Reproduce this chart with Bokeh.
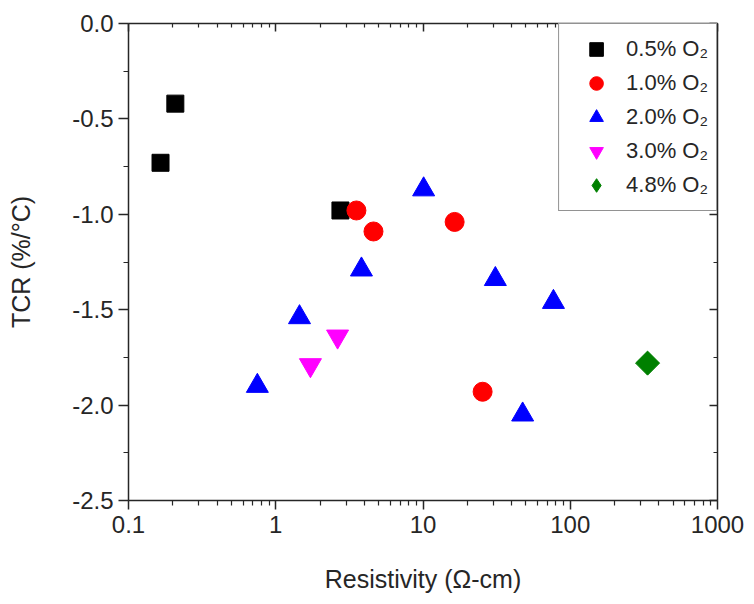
import numpy as np
from bokeh.plotting import figure
from bokeh.models import (FixedTicker, SingleIntervalTicker, LinearAxis, LogAxis,
                          NumeralTickFormatter, CustomJSTickFormatter, Legend, LegendItem)
from bokeh.embed import file_html
from bokeh.resources import INLINE

# ---- data ----
series_names = ["0.5% O\u2082", "1.0% O\u2082", "2.0% O\u2082", "3.0% O\u2082", "4.8% O\u2082"]
rho_05 = [0.165, 0.208, 2.75]
tcr_05 = [-0.73, -0.42, -0.98]
rho_10 = [3.53, 4.61, 16.4, 25.4]
tcr_10 = [-0.98, -1.09, -1.04, -1.93]
rho_20 = [10.1, 3.82, 31.0, 1.45, 0.75, 47.5, 76.9]
tcr_20 = [-0.87, -1.29, -1.34, -1.54, -1.90, -2.05, -1.46]
rho_30 = [2.63, 1.72]
tcr_30 = [-1.64, -1.79]
rho_48 = [335.0]
tcr_48 = [-1.78]

x_major_ticks = [0.1, 1, 10, 100, 1000]
x_minor_ticks = [k * d for d in [0.1, 1, 10, 100] for k in range(2, 10)]

FONT = "Liberation Sans"
AX = "#262626"

p = figure(x_axis_type="log", x_range=(0.1, 1000), y_range=(-2.5, 0.0),
           frame_width=589, frame_height=477,
           min_border_left=128, min_border_right=29, min_border_top=23, min_border_bottom=104,
           output_backend="svg", toolbar_location=None,
           background_fill_color="white", border_fill_color="white")
p.xgrid.visible = False
p.ygrid.visible = False
p.outline_line_color = None

xt = FixedTicker(ticks=x_major_ticks, minor_ticks=x_minor_ticks)
yt = SingleIntervalTicker(interval=0.5, num_minor_ticks=2)

xa = p.xaxis[0]
xa.ticker = xt
xa.formatter = NumeralTickFormatter(format="0.[0]")
ya = p.yaxis[0]
ya.ticker = yt
ya.formatter = NumeralTickFormatter(format="0.0")

for ax in (xa, ya):
    ax.axis_line_color = AX
    ax.axis_line_width = 1.5
    ax.major_tick_line_color = AX
    ax.minor_tick_line_color = AX
    ax.major_tick_line_width = 1.5
    ax.minor_tick_line_width = 1.2
    ax.major_tick_in = 0
    ax.minor_tick_in = 0
    ax.major_label_text_font = FONT
    ax.major_label_text_font_size = "24px"
    ax.major_label_text_color = AX
    ax.axis_label_text_font = FONT
    ax.axis_label_text_font_size = "25px"
    ax.axis_label_text_font_style = "normal"
    ax.axis_label_text_color = AX

xa.major_tick_out = 9
xa.minor_tick_out = 5
xa.major_label_standoff = 6
xa.axis_label = "Resistivity (\u03a9-cm)"
xa.axis_label_standoff = 29

ya.major_tick_out = 10
ya.minor_tick_out = 5
ya.major_label_standoff = 5
ya.axis_label = "TCR (%/\u00b0C)"
ya.axis_label_standoff = 34

blank = CustomJSTickFormatter(code="return ''")
ra = LinearAxis(ticker=yt, formatter=blank)
ta = LogAxis(ticker=xt, formatter=blank)
for ax in (ra, ta):
    ax.axis_line_color = AX
    ax.axis_line_width = 1.5
    ax.major_tick_line_color = AX
    ax.minor_tick_line_color = AX
    ax.major_tick_line_width = 1.5
    ax.minor_tick_line_width = 1.2
    ax.major_tick_in = 8
    ax.major_tick_out = 0
    ax.minor_tick_in = 4
    ax.minor_tick_out = 0
    ax.major_label_standoff = 0
p.add_layout(ra, "right")
p.add_layout(ta, "above")

r05 = p.scatter(rho_05, tcr_05, marker="square", size=17, color="black")
r10 = p.scatter(rho_10, tcr_10, marker="circle", size=19, color="#FF0000")
r20 = p.scatter(rho_20, tcr_20, marker="triangle", size=22, color="#0000FF")
r30 = p.scatter(rho_30, tcr_30, marker="inverted_triangle", size=22, color="#FF00FF")
# diamond key for the legend (drawn underneath the rotated square, which covers it)
r48_key = p.scatter(rho_48, tcr_48, marker="diamond", size=22, color="#008000")
r48 = p.scatter(rho_48, tcr_48, marker="square", size=17, angle=np.pi / 4, color="#008000")

legend = Legend(items=[LegendItem(label=n, renderers=[r]) for n, r in
                       zip(series_names, [r05, r10, r20, r30, r48_key])],
                location="top_right")
legend.margin = 0
legend.padding = 8
legend.spacing = 0
legend.glyph_width = 58
legend.glyph_height = 34
legend.label_height = 34
legend.label_standoff = 1
legend.label_text_font = FONT
legend.label_text_font_size = "22px"
legend.label_text_color = AX
legend.border_line_color = AX
legend.border_line_width = 1.2
legend.background_fill_alpha = 1.0
p.add_layout(legend, "center")

open("out.html", "w").write(file_html(p, INLINE))
